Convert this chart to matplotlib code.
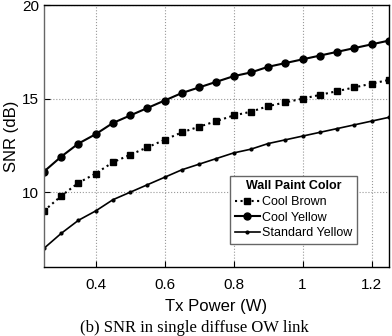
import matplotlib
matplotlib.use('Agg')
import matplotlib.pyplot as plt

# Tx power (W)
tx_power = [0.25, 0.30, 0.35, 0.40, 0.45, 0.50, 0.55, 0.60, 0.65, 0.70, 0.75,
            0.80, 0.85, 0.90, 0.95, 1.00, 1.05, 1.10, 1.15, 1.20, 1.25]

# SNR (dB)
cool_brown = [9.0, 9.8, 10.5, 11.0, 11.6, 12.0, 12.4, 12.8, 13.2, 13.5, 13.8,
              14.1, 14.3, 14.6, 14.8, 15.0, 15.2, 15.4, 15.6, 15.8, 16.0]
cool_yellow = [11.1, 11.9, 12.6, 13.1, 13.7, 14.1, 14.5, 14.9, 15.3, 15.6, 15.9,
               16.2, 16.4, 16.7, 16.9, 17.1, 17.3, 17.5, 17.7, 17.9, 18.1]
standard_yellow = [7.0, 7.8, 8.5, 9.0, 9.6, 10.0, 10.4, 10.8, 11.2, 11.5, 11.8,
                   12.1, 12.3, 12.6, 12.8, 13.0, 13.2, 13.4, 13.6, 13.8, 14.0]

x_ticks = [0.4, 0.6, 0.8, 1.0, 1.2]
x_tick_labels = ['0.4', '0.6', '0.8', '1', '1.2']
y_ticks = [10, 15, 20]

plt.rcParams['font.family'] = ['Liberation Sans', 'DejaVu Sans']

fig = plt.figure(figsize=(3.92, 3.36), dpi=100)
ax = fig.add_axes([0.112, 0.205, 0.880, 0.780])

ax.plot(tx_power, cool_brown, color='black', linestyle=':', linewidth=1.5,
        marker='s', markersize=4, label='Cool Brown')
ax.plot(tx_power, cool_yellow, color='black', linestyle='-', linewidth=1.5,
        marker='o', markersize=5, label='Cool Yellow')
ax.plot(tx_power, standard_yellow, color='black', linestyle='-', linewidth=1.2,
        marker='.', markersize=4, label='Standard Yellow')

ax.set_xlim(0.25, 1.25)
ax.set_ylim(6, 20)
ax.set_xticks(x_ticks)
ax.set_xticklabels(x_tick_labels)
ax.set_yticks(y_ticks)
ax.tick_params(direction='in', labelsize=11, length=4)
ax.tick_params(axis='x', pad=8)
ax.grid(True, linestyle=':', color='#999999', linewidth=0.8)

ax.set_xlabel('Tx Power (W)', fontsize=12, labelpad=5)
ax.set_ylabel('SNR (dB)', fontsize=12, labelpad=2)

for spine in ax.spines.values():
    spine.set_linewidth(1.0)
ax.spines['left'].set_color('#666666')

leg = ax.legend(title='Wall Paint Color', loc='lower right',
                bbox_to_anchor=(0.925, 0.065), fontsize=9, handlelength=2.0,
                handletextpad=0.2, borderpad=0.35, labelspacing=0.3,
                fancybox=False, edgecolor='#666666', framealpha=1)
leg.get_title().set_fontweight('bold')
leg.get_title().set_fontsize(9)

fig.text(0.495, 0.0, '(b) SNR in single diffuse OW link', ha='center',
         va='bottom', fontsize=12, family=['Liberation Serif', 'DejaVu Serif'])

fig.savefig('out.png', dpi=100)
